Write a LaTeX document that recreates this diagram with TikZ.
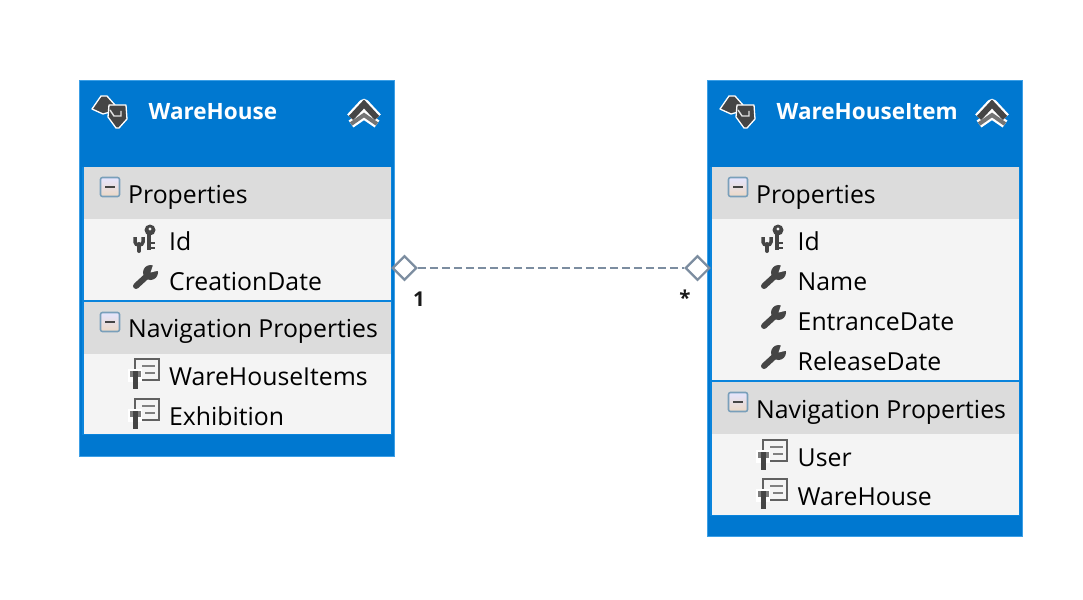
\documentclass[tikz,border=0pt]{standalone}
\usepackage{fontspec}
\setmainfont{Open Sans}
\usetikzlibrary{shapes.geometric}
\definecolor{bluClasse}{HTML}{0078D0}
\definecolor{bluBordo}{HTML}{3C9FE6}
\definecolor{bluLinea}{HTML}{0A84DC}
\definecolor{grigioTesta}{HTML}{DCDCDC}
\definecolor{grigioRiga}{HTML}{F4F4F4}
\definecolor{scuro}{HTML}{454545}
\definecolor{ardesia}{HTML}{7C8DA0}
\tikzset{
    classe/.style = {draw = bluBordo, line width = 1.5pt, fill = bluClasse, inner sep = 0pt, minimum width = 315pt},
    titolo/.style = {anchor = base west, inner sep = 0pt, text = white, font = \fontsize{22.5}{26}\selectfont\bfseries},
    testata/.style = {anchor = base west, inner sep = 0pt, text = black, font = \fontsize{24.8}{28}\selectfont},
    riga/.style = {testata},
    rombo/.style = {shape = diamond, draw = ardesia, line width = 2.2pt, fill = white, inner sep = 0pt, minimum width = 24.5pt, minimum height = 24.5pt},
    connettore/.style = {draw = ardesia, line width = 2pt, dash pattern = on 8pt off 4pt},
    molteplicita/.style = {anchor = base, inner sep = 0pt, text = black!90, font = \fontsize{20.5}{24}\selectfont\bfseries},
    pics/entita/.style = {code = {
        \draw[white, line width = 1.3pt, fill = scuro, line join = round] (-21,-2) -- (-12,-15) -- (-6,-15) -- (2,-6) -- (-3,-4) -- (-3,1) -- (-10,3) -- cycle;
        \draw[white, line width = 1.3pt, fill = scuro, line join = round] (-4,-6) -- (13,-6) -- (14,8) -- (6,17) -- (3,17) -- (-5,6) -- cycle;
        \draw[white!85!scuro, line width = 1.4pt] (-3,-1) -- (1,5) -- (8,5) -- (8,0);
    }},
    pics/comprimi/.style = {code = {
        \draw[white, line width = 10.5pt, line join = round] (-13,7) -- (0,-7) -- (13,7);
        \draw[white, line width = 8.5pt, line join = round] (-13,13) -- (0,4) -- (13,13);
        \draw[scuro, line width = 6pt] (-13,7) -- (0,-7) -- (13,7);
        \draw[scuro!75, line width = 4pt] (-13,13) -- (0,4) -- (13,13);
    }},
    pics/meno/.style = {code = {
        \draw[rounded corners = 2pt, draw = bluBordo!45!gray!85, line width = 1.6pt, top color = white!90!blue, bottom color = brown!30] (-9.5,-9.5) rectangle (9.5,9.5);
        \draw[scuro, line width = 2.4pt] (-5,0) -- (5,0);
    }},
    pics/chiave/.style = {code = {
        \draw[scuro, line width = 3.5pt] (-9,-2) -- (-9,3) .. controls (-9,7) and (-1,7) .. (-1,3) -- (-1,-2);
        \draw[scuro, line width = 4pt, line cap = round] (-5,5) -- (-5,12);
        \fill[scuro] (6,-9) circle (5.5);
        \fill[grigioRiga] (6,-10) circle (1.7);
        \draw[scuro, line width = 4pt] (5,-7) -- (5,11);
        \draw[scuro, line width = 2.5pt] (5,4) -- (11,4) (5,9) -- (11,9);
    }},
    pics/proprieta/.style = {code = {
        \fill[scuro] (5.5,-4.5) circle (7.5);
        \fill[grigioRiga] (5.5,-4.5) -- (9,-15) -- (16,-7) -- cycle;
        \draw[scuro, line width = 6pt, line cap = round] (-9,9) -- (3,-2);
    }},
    pics/navigazione/.style = {code = {
        \draw[scuro!85, line width = 2pt] (-10,-17) rectangle (14,4);
        \draw[gray, line width = 2pt] (-3,-10) -- (10,-10) (0,-3) -- (10,-3);
        \fill[white] (-17,-7) rectangle (-3,6);
        \draw[scuro!70, line width = 3pt] (-14,-5) -- (-14,1) (-6,-5) -- (-6,1);
        \draw[scuro, line width = 5pt] (-10,-5) -- (-10,13);
    }},
}
\begin{document}
\begin{tikzpicture}[x = 1pt, y = -1pt]
    % Parametri
    \pgfmathsetmacro{\dx}{628}
    \useasboundingbox (0,0) rectangle (1083,599);
    % Classi
    \node[classe, minimum height = 376pt] (wareHouse) at (237,268.5){};
    \node[classe, minimum height = 456pt] (wareHouseItem) at (237+\dx,308.5){};
    % Scomparti WareHouse
    \fill[bluLinea] (82,167) rectangle (392,435);
    \fill[grigioTesta] (84,167) rectangle (390.5,219);
    \fill[grigioRiga] (84,219) rectangle (390.5,299.5);
    \fill[grigioTesta] (84,302) rectangle (390.5,354);
    \fill[grigioRiga] (84,354) rectangle (390.5,434);
    % Scomparti WareHouseItem
    \fill[bluLinea] (82+\dx,167) rectangle (392+\dx,516);
    \fill[grigioTesta] (84+\dx,167) rectangle (390.5+\dx,219);
    \fill[grigioRiga] (84+\dx,219) rectangle (390.5+\dx,380);
    \fill[grigioTesta] (84+\dx,382) rectangle (390.5+\dx,434);
    \fill[grigioRiga] (84+\dx,434) rectangle (390.5+\dx,515);
    % Intestazioni
    \pic at (113,111) {entita};
    \node[titolo] (titoloA) at (148.5,119){WareHouse};
    \pic at (364,111) {comprimi};
    \pic at (113+\dx,111) {entita};
    \node[titolo] (titoloB) at (148.5+\dx,119){WareHouseItem};
    \pic at (364+\dx,111) {comprimi};
    % Testi WareHouse
    \pic at (110,187) {meno};
    \node[testata] (propA) at (128,203){Properties};
    \pic at (144,239) {chiave};
    \node[riga] (idA) at (169,250){Id};
    \pic at (145,277) {proprieta};
    \node[riga] (dataA) at (169,290){CreationDate};
    \pic at (110,322) {meno};
    \node[testata] (navA) at (128,337){Navigation Properties};
    \pic at (145,376) {navigazione};
    \node[riga] (itemsA) at (169,385){WareHouseItems};
    \pic at (145,416) {navigazione};
    \node[riga] (exhA) at (169,425){Exhibition};
    % Testi WareHouseItem
    \pic at (110+\dx,187) {meno};
    \node[testata] (propB) at (128+\dx,203){Properties};
    \pic at (144+\dx,239) {chiave};
    \node[riga] (idB) at (169.5+\dx,250){Id};
    \pic at (145+\dx,277) {proprieta};
    \node[riga] (nomeB) at (169.5+\dx,290){Name};
    \pic at (145+\dx,317) {proprieta};
    \node[riga] (entrataB) at (169.5+\dx,330){EntranceDate};
    \pic at (145+\dx,357) {proprieta};
    \node[riga] (uscitaB) at (169.5+\dx,370){ReleaseDate};
    \pic at (110+\dx,402) {meno};
    \node[testata] (navB) at (128+\dx,418){Navigation Properties};
    \pic at (145+\dx,457) {navigazione};
    \node[riga] (userB) at (169.5+\dx,466){User};
    \pic at (145+\dx,496) {navigazione};
    \node[riga] (houseB) at (169.5+\dx,505){WareHouse};
    % Associazione
    \node[rombo] (romboA) at (404.5,268){};
    \node[rombo] (romboB) at (697.5,268){};
    \draw[connettore] (romboA) -- (romboB);
    \node[molteplicita] (unoA) at (419,306){1};
    \node[molteplicita] (moltiB) at (685,305){*};
\end{tikzpicture}
\end{document}
